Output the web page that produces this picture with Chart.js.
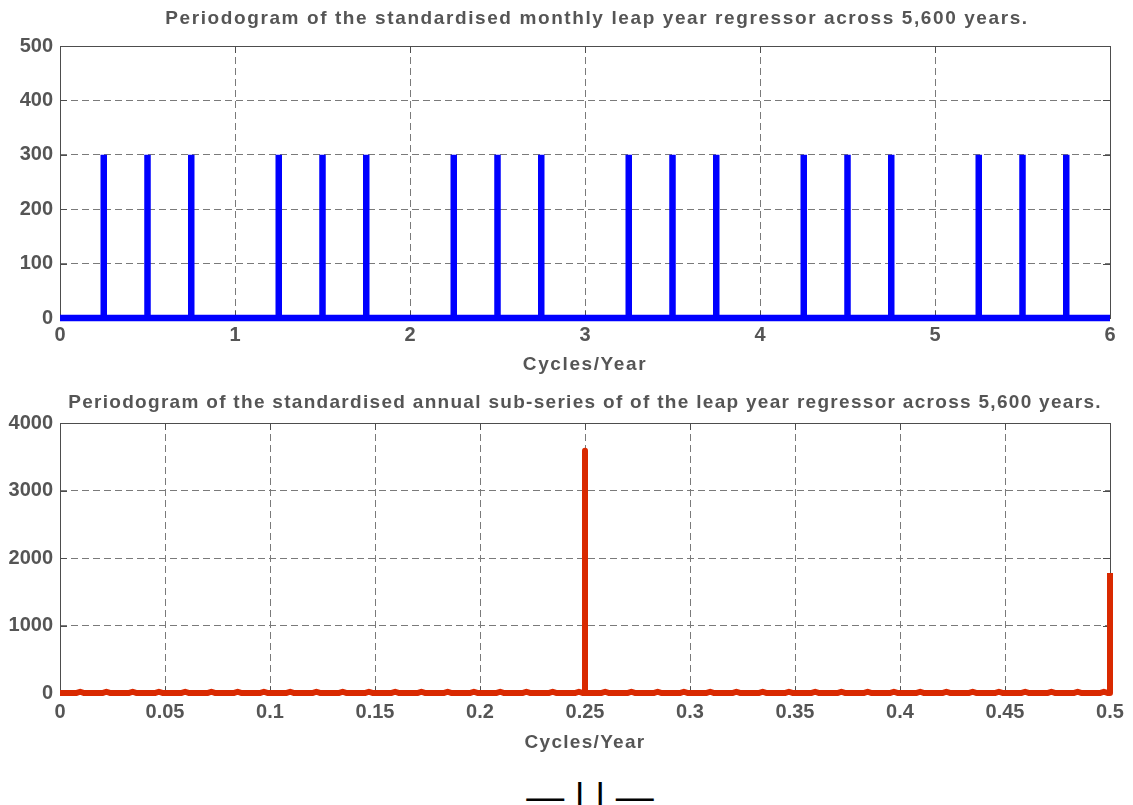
<!DOCTYPE html>
<html lang="en">
<head>
    <meta charset="UTF-8">
    <title>Periodogram - leap year regressor</title>
    <script src="https://cdn.jsdelivr.net/npm/chart.js"></script>
    <style>
        body {
            margin: 0;
            width: 1133px;
            height: 805px;
            background: white;
            overflow: hidden;
            position: relative;
            font-family: 'Liberation Sans', Arial, sans-serif;
        }
        .chart-box {
            position: absolute;
            left: 0;
            width: 1133px;
            height: 380px;
        }
        #box-top { top: 0; }
        #box-bottom { top: 380px; }
        .page-mark {
            position: absolute;
            left: 0;
            width: 1180px;
            top: 776px;
            text-align: center;
            font-size: 38px;
            line-height: 42px;
            color: #000;
            white-space: pre;
        }
    </style>
</head>
<body>
    <div class="chart-box" id="box-top"><canvas id="monthlyChart"></canvas></div>
    <div class="chart-box" id="box-bottom"><canvas id="annualChart"></canvas></div>
    <div class="page-mark">— | | —</div>

    <script>
        // Grafico de cima: regressor mensal (ciclos/ano)
        const monthlyFreqs = [0.25, 0.5, 0.75, 1.25, 1.5, 1.75, 2.25, 2.5, 2.75,
                              3.25, 3.5, 3.75, 4.25, 4.5, 4.75, 5.25, 5.5, 5.75];
        const monthlyPower = [300, 300, 300, 300, 300, 300, 300, 300, 300,
                              300, 300, 300, 300, 300, 300, 300, 300, 300];
        const monthlyXTicks = [0, 1, 2, 3, 4, 5, 6];
        const monthlyYTicks = [0, 100, 200, 300, 400, 500];

        // Grafico de baixo: sub-serie anual
        const annualFreqs = [0.25, 0.5];
        const annualPower = [3590, 1778];
        const annualSmallFreqs = [0.0096, 0.0221, 0.0346, 0.0471, 0.0596, 0.0721, 0.0846, 0.0971,
                                  0.1096, 0.1221, 0.1346, 0.1471, 0.1596, 0.1721, 0.1846, 0.1971,
                                  0.2096, 0.2221, 0.2346, 0.2471, 0.2596, 0.2721, 0.2846, 0.2971,
                                  0.3096, 0.3221, 0.3346, 0.3471, 0.3596, 0.3721, 0.3846, 0.3971,
                                  0.4096, 0.4221, 0.4346, 0.4471, 0.4596, 0.4721, 0.4846, 0.4971];
        const annualSmallPower = 20;
        const annualXTicks = [0, 0.05, 0.1, 0.15, 0.2, 0.25, 0.3, 0.35, 0.4, 0.45, 0.5];
        const annualYTicks = [0, 1000, 2000, 3000, 4000];

        const FONT = "'Liberation Sans', Arial, sans-serif";
        const TEXT = '#555555';
        const GRID = '#7a7a7a';

        // monta a linha: base em zero, sobe no pico e volta
        function spikeLine(freqs, power, xMax, bumps, bumpPower) {
            const events = [];
            freqs.forEach((f, i) => events.push({ f: f, h: power[i], w: 0 }));
            (bumps || []).forEach(f => events.push({ f: f, h: bumpPower, w: 0.002 }));
            events.sort((a, b) => a.f - b.f);
            const pts = [{ x: 0, y: 0 }];
            events.forEach(e => {
                pts.push({ x: e.f - e.w, y: 0 });
                pts.push({ x: e.f, y: e.h });
                if (e.f < xMax) pts.push({ x: e.f + e.w, y: 0 });
            });
            if (pts[pts.length - 1].x < xMax) pts.push({ x: xMax, y: 0 });
            return pts;
        }

        // moldura com tracinhos internos, estilo matlab
        const frameTicks = {
            id: 'frameTicks',
            beforeDatasetsDraw(chart) {
                const { ctx, chartArea: a, scales } = chart;
                const len = 7;
                ctx.save();
                ctx.strokeStyle = '#4d4d4d';
                ctx.lineWidth = 1;
                ctx.beginPath();
                scales.x.ticks.forEach(t => {
                    const px = Math.round(scales.x.getPixelForValue(t.value)) + 0.5;
                    ctx.moveTo(px, a.bottom); ctx.lineTo(px, a.bottom - len);
                    ctx.moveTo(px, a.top); ctx.lineTo(px, a.top + len);
                });
                scales.y.ticks.forEach(t => {
                    const py = Math.round(scales.y.getPixelForValue(t.value)) + 0.5;
                    ctx.moveTo(a.left, py); ctx.lineTo(a.left + len, py);
                    ctx.moveTo(a.right, py); ctx.lineTo(a.right - len, py);
                });
                ctx.stroke();
                ctx.strokeRect(Math.round(a.left) + 0.5, Math.round(a.top) + 0.5,
                               Math.round(a.right - a.left), Math.round(a.bottom - a.top));
                ctx.restore();
            }
        };

        // titulos com letras mais espacadas (e deslocamento do titulo principal)
        function spaceOut(chart, px, titleShift) {
            const ctx = chart.ctx;
            const wrap = (obj, name, dx) => {
                if (!obj || !obj[name]) return;
                const orig = obj[name].bind(obj);
                obj[name] = function (...args) {
                    ctx.save();
                    ctx.letterSpacing = px;
                    ctx.translate(dx, 0);
                    orig(...args);
                    ctx.restore();
                };
            };
            wrap(chart.titleBlock, 'draw', titleShift);
            wrap(chart.scales.x, 'drawTitle', 0);
            chart.draw();
        }

        function makeChart(id, cfg) {
            const chart = new Chart(document.getElementById(id), {
                type: 'line',
                data: {
                    datasets: [{
                        data: cfg.points,
                        borderColor: cfg.color,
                        borderWidth: cfg.width,
                        borderJoinStyle: cfg.join,
                        borderCapStyle: 'butt',
                        pointRadius: 0,
                        tension: 0,
                        fill: false,
                        clip: 8
                    }]
                },
                options: {
                    responsive: true,
                    maintainAspectRatio: false,
                    animation: false,
                    parsing: false,
                    layout: { padding: { left: 0, right: 23, top: 0, bottom: 0 } },
                    plugins: {
                        legend: { display: false },
                        tooltip: { enabled: false },
                        title: {
                            display: true,
                            fullSize: false,
                            text: cfg.title,
                            color: TEXT,
                            font: { family: FONT, size: 19, weight: 'bold' },
                            padding: cfg.titlePad
                        }
                    },
                    scales: {
                        x: {
                            type: 'linear',
                            min: cfg.xTicks[0],
                            max: cfg.xTicks[cfg.xTicks.length - 1],
                            afterBuildTicks: s => { s.ticks = cfg.xTicks.map(v => ({ value: v })); },
                            ticks: {
                                color: TEXT,
                                font: { family: FONT, size: 20, weight: 'bold' },
                                padding: cfg.xTickPad,
                                maxRotation: 0,
                                autoSkip: false,
                                callback: v => String(v)
                            },
                            grid: { color: GRID, lineWidth: 1, drawTicks: false, tickLength: 0 },
                            border: { display: false, dash: [7, 4] },
                            title: {
                                display: true,
                                text: 'Cycles/Year',
                                color: TEXT,
                                font: { family: FONT, size: 19, weight: 'bold' },
                                padding: cfg.xTitlePad
                            }
                        },
                        y: {
                            type: 'linear',
                            min: cfg.yTicks[0],
                            max: cfg.yTicks[cfg.yTicks.length - 1],
                            afterBuildTicks: s => { s.ticks = cfg.yTicks.map(v => ({ value: v })); },
                            afterFit: s => { s.width = 60; },
                            ticks: {
                                color: TEXT,
                                font: { family: FONT, size: 20, weight: 'bold' },
                                padding: 7,
                                callback: v => String(v)
                            },
                            grid: { color: GRID, lineWidth: 1, drawTicks: false, tickLength: 0 },
                            border: { display: false, dash: [7, 4] }
                        }
                    }
                },
                plugins: [frameTicks]
            });
            spaceOut(chart, cfg.spacing, cfg.titleShift);
            return chart;
        }

        makeChart('monthlyChart', {
            title: 'Periodogram of the standardised monthly leap year regressor across 5,600 years.',
            titlePad: { top: 7, bottom: 16.2 },
            titleShift: 12,
            spacing: '1.6px',
            xTickPad: 5.5,
            xTitlePad: { top: 0, bottom: 4.2 },
            points: spikeLine(monthlyFreqs, monthlyPower, 6),
            color: '#0000ff',
            width: 6.5,
            join: 'bevel',
            xTicks: monthlyXTicks,
            yTicks: monthlyYTicks
        });

        makeChart('annualChart', {
            title: 'Periodogram of the standardised annual sub-series of of the leap year regressor across 5,600 years.',
            titlePad: { top: 11, bottom: 9.2 },
            titleShift: 0,
            spacing: '1.3px',
            xTickPad: 7,
            xTitlePad: { top: 0, bottom: 6.1 },
            points: spikeLine(annualFreqs, annualPower, 0.5, annualSmallFreqs, annualSmallPower),
            color: '#d92900',
            width: 6,
            join: 'round',
            xTicks: annualXTicks,
            yTicks: annualYTicks
        });
    </script>
</body>
</html>
